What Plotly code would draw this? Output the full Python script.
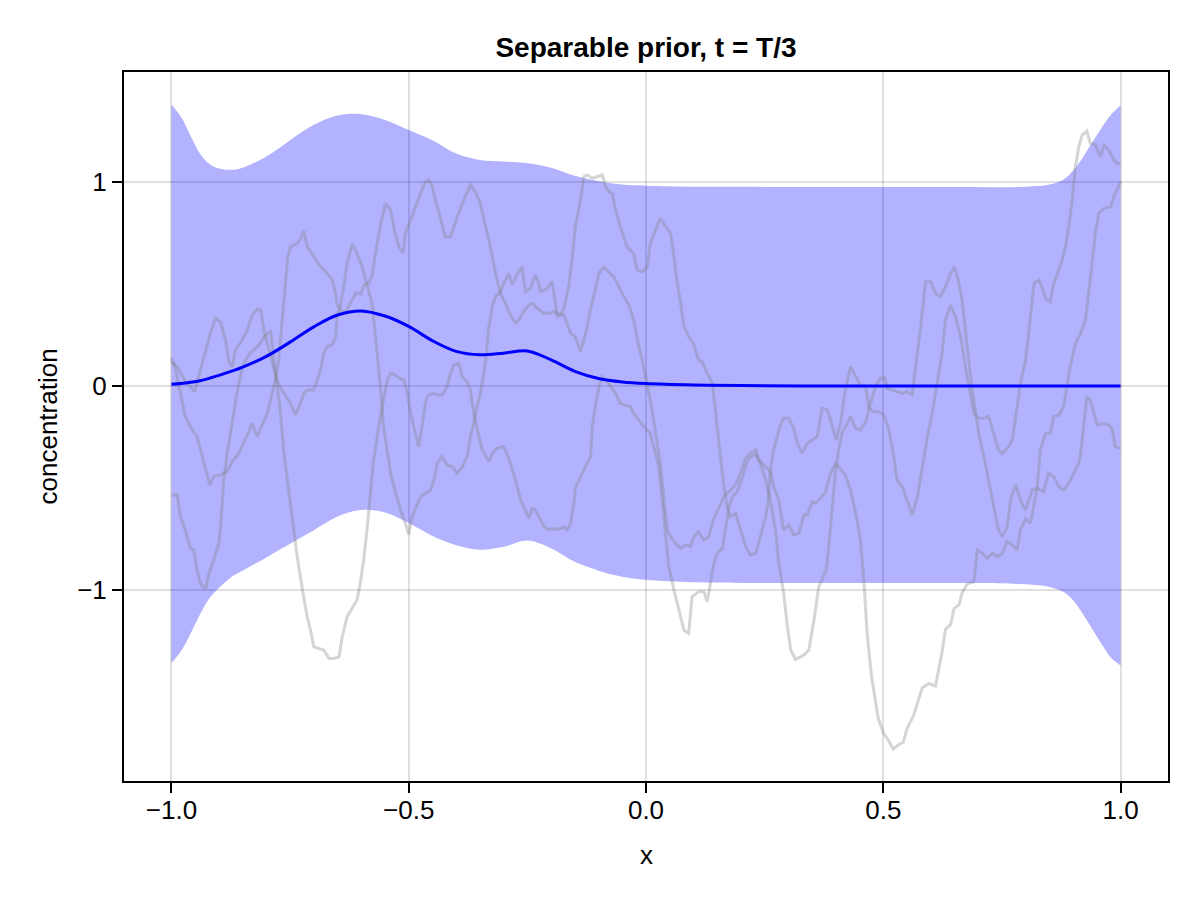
import plotly.graph_objects as go

# band / mean
band_x = [-1.0, -0.98, -0.96, -0.94, -0.92, -0.90, -0.87, -0.85, -0.80, -0.75,
          -0.70, -0.65, -0.60, -0.55, -0.50, -0.45, -0.40, -0.35, -0.30, -0.25,
          -0.20, -0.15, -0.10, -0.05, 0.0, 0.10, 0.20, 0.40, 0.60, 0.80,
          0.85, 0.88, 0.90, 0.92, 0.94, 0.96, 0.98, 1.0]
band_upper = [1.379, 1.32, 1.228, 1.14, 1.088, 1.066, 1.06, 1.07, 1.125, 1.205,
              1.28, 1.326, 1.332, 1.304, 1.255, 1.205, 1.139, 1.108, 1.100, 1.092,
              1.070, 1.030, 1.003, 0.987, 0.982, 0.977, 0.976, 0.975, 0.975, 0.977,
              0.987, 1.012, 1.056, 1.118, 1.193, 1.265, 1.330, 1.375]
band_lower = [-1.358, -1.30, -1.215, -1.12, -1.04, -0.99, -0.93, -0.905, -0.84, -0.773,
              -0.707, -0.640, -0.608, -0.620, -0.672, -0.735, -0.78, -0.802, -0.788, -0.757,
              -0.795, -0.862, -0.905, -0.935, -0.950, -0.962, -0.965, -0.966, -0.966, -0.972,
              -0.985, -1.010, -1.050, -1.115, -1.190, -1.265, -1.332, -1.370]
mean_y = [0.008, 0.012, 0.018, 0.026, 0.038, 0.052, 0.075, 0.092, 0.145, 0.215,
          0.290, 0.348, 0.368, 0.343, 0.292, 0.222, 0.170, 0.153, 0.161, 0.172,
          0.128, 0.072, 0.037, 0.020, 0.012, 0.005, 0.002, 0.0, 0.0, 0.0,
          0.0, 0.0, 0.0, 0.0, 0.0, 0.0, 0.0, 0.0]

# three prior samples (x, y)
sample_a = [
    (-1.000, 0.137), (-0.990, 0.070), (-0.981, -0.036), (-0.971, -0.150), (-0.956, -0.216),
    (-0.946, -0.248), (-0.935, -0.346), (-0.925, -0.428), (-0.919, -0.485), (-0.911, -0.444),
    (-0.897, -0.436), (-0.883, -0.420), (-0.872, -0.371), (-0.858, -0.330), (-0.848, -0.281),
    (-0.837, -0.224), (-0.830, -0.183), (-0.819, -0.248), (-0.812, -0.207), (-0.798, -0.134),
    (-0.788, -0.036), (-0.781, 0.029), (-0.774, 0.127), (-0.767, 0.307), (-0.760, 0.495),
    (-0.755, 0.630), (-0.749, 0.683), (-0.735, 0.699), (-0.728, 0.720), (-0.721, 0.760),
    (-0.714, 0.683), (-0.700, 0.634), (-0.686, 0.585), (-0.672, 0.552), (-0.661, 0.520),
    (-0.654, 0.454), (-0.651, 0.397), (-0.642, 0.370), (-0.633, 0.362), (-0.623, 0.407),
    (-0.611, 0.456), (-0.600, 0.451), (-0.595, 0.495), (-0.584, 0.506), (-0.577, 0.540),
    (-0.570, 0.651), (-0.560, 0.784), (-0.549, 0.895), (-0.538, 0.862), (-0.528, 0.740),
    (-0.519, 0.673), (-0.512, 0.651), (-0.507, 0.750), (-0.496, 0.814), (-0.486, 0.880),
    (-0.475, 0.945), (-0.465, 1.002), (-0.458, 1.010), (-0.451, 0.985), (-0.444, 0.912),
    (-0.433, 0.822), (-0.423, 0.732), (-0.412, 0.732), (-0.405, 0.781), (-0.395, 0.847),
    (-0.384, 0.912), (-0.370, 0.985), (-0.360, 0.953), (-0.349, 0.896), (-0.338, 0.781),
    (-0.328, 0.683), (-0.317, 0.553), (-0.307, 0.455), (-0.296, 0.405), (-0.286, 0.348),
    (-0.275, 0.307), (-0.268, 0.324), (-0.258, 0.364), (-0.247, 0.397), (-0.240, 0.405),
    (-0.229, 0.381), (-0.215, 0.356), (-0.205, 0.356), (-0.194, 0.364), (-0.184, 0.353),
    (-0.173, 0.348), (-0.166, 0.307), (-0.159, 0.258), (-0.149, 0.242), (-0.138, 0.168),
    (-0.131, 0.225), (-0.124, 0.291), (-0.117, 0.373), (-0.110, 0.438), (-0.099, 0.552),
    (-0.089, 0.582), (-0.078, 0.560), (-0.068, 0.536), (-0.057, 0.487), (-0.047, 0.438),
    (-0.036, 0.397), (-0.026, 0.324), (-0.015, 0.193), (-0.005, 0.095), (0.003, -0.003),
    (0.009, -0.069), (0.016, -0.167), (0.024, -0.297), (0.031, -0.395), (0.038, -0.559),
    (0.045, -0.706), (0.052, -0.739), (0.062, -0.771), (0.073, -0.796), (0.083, -0.779),
    (0.094, -0.785), (0.101, -0.739), (0.111, -0.714), (0.122, -0.755), (0.132, -0.739),
    (0.143, -0.649), (0.153, -0.600), (0.164, -0.543), (0.178, -0.510), (0.189, -0.485),
    (0.199, -0.428), (0.210, -0.354), (0.220, -0.330), (0.231, -0.314), (0.238, -0.363),
    (0.252, -0.395), (0.262, -0.420), (0.269, -0.493), (0.280, -0.559), (0.290, -0.706),
    (0.301, -0.681), (0.311, -0.730), (0.322, -0.722), (0.333, -0.632), (0.340, -0.632),
    (0.350, -0.567), (0.357, -0.575), (0.368, -0.551), (0.378, -0.520), (0.389, -0.428),
    (0.399, -0.382), (0.406, -0.395), (0.420, -0.436), (0.431, -0.510), (0.442, -0.624),
    (0.452, -0.755), (0.459, -0.951), (0.466, -1.212), (0.475, -1.420), (0.489, -1.625),
    (0.500, -1.700), (0.511, -1.736), (0.521, -1.780), (0.532, -1.758), (0.542, -1.747),
    (0.550, -1.680), (0.564, -1.614), (0.582, -1.480), (0.596, -1.458), (0.610, -1.470),
    (0.624, -1.303), (0.631, -1.192), (0.642, -1.170), (0.649, -1.092), (0.660, -1.070),
    (0.666, -1.014), (0.677, -0.970), (0.691, -0.959), (0.698, -0.804), (0.709, -0.820),
    (0.719, -0.845), (0.730, -0.820), (0.740, -0.837), (0.751, -0.820), (0.761, -0.763),
    (0.772, -0.779), (0.782, -0.804), (0.789, -0.706), (0.800, -0.649), (0.810, -0.673),
    (0.817, -0.592), (0.824, -0.502), (0.831, -0.314), (0.842, -0.232), (0.852, -0.232),
    (0.859, -0.150), (0.870, -0.142), (0.880, -0.101), (0.887, -0.003), (0.894, 0.095),
    (0.905, 0.209), (0.916, 0.258), (0.926, 0.324), (0.933, 0.454), (0.940, 0.601),
    (0.947, 0.748), (0.954, 0.846), (0.965, 0.871), (0.979, 0.879), (0.986, 0.928),
    (1.000, 1.002),
]

sample_b = [
    (-1.000, 0.120), (-0.988, 0.095), (-0.970, 0.020), (-0.951, -0.028), (-0.939, 0.078),
    (-0.928, 0.176), (-0.918, 0.258), (-0.907, 0.332), (-0.897, 0.315), (-0.886, 0.225),
    (-0.879, 0.119), (-0.872, 0.095), (-0.865, 0.176), (-0.851, 0.225), (-0.840, 0.275),
    (-0.830, 0.348), (-0.819, 0.376), (-0.812, 0.373), (-0.805, 0.275), (-0.798, 0.209),
    (-0.788, 0.127), (-0.777, 0.029), (-0.770, -0.011), (-0.760, -0.044), (-0.749, -0.085),
    (-0.739, -0.142), (-0.728, -0.085), (-0.721, -0.036), (-0.714, -0.020), (-0.700, -0.020),
    (-0.693, 0.029), (-0.686, 0.078), (-0.679, 0.160), (-0.672, 0.193), (-0.661, 0.201),
    (-0.654, 0.242), (-0.651, 0.340), (-0.644, 0.397), (-0.637, 0.487), (-0.630, 0.601),
    (-0.619, 0.696), (-0.609, 0.651), (-0.598, 0.584), (-0.588, 0.495), (-0.577, 0.400),
    (-0.567, 0.170), (-0.560, 0.005), (-0.553, -0.200), (-0.545, -0.330), (-0.538, -0.430),
    (-0.528, -0.520), (-0.517, -0.610), (-0.507, -0.673), (-0.500, -0.730), (-0.493, -0.641),
    (-0.482, -0.575), (-0.475, -0.543), (-0.465, -0.526), (-0.454, -0.510), (-0.447, -0.461),
    (-0.440, -0.379), (-0.430, -0.346), (-0.419, -0.387), (-0.408, -0.395), (-0.398, -0.428),
    (-0.387, -0.395), (-0.377, -0.346), (-0.370, -0.248), (-0.363, -0.183), (-0.356, -0.101),
    (-0.349, -0.036), (-0.342, 0.062), (-0.338, 0.127), (-0.331, 0.291), (-0.324, 0.389),
    (-0.317, 0.438), (-0.307, 0.462), (-0.300, 0.503), (-0.289, 0.552), (-0.282, 0.495),
    (-0.271, 0.552), (-0.261, 0.585), (-0.254, 0.462), (-0.243, 0.479), (-0.233, 0.544),
    (-0.226, 0.503), (-0.222, 0.462), (-0.208, 0.479), (-0.198, 0.511), (-0.191, 0.405),
    (-0.187, 0.340), (-0.180, 0.348), (-0.173, 0.381), (-0.163, 0.487), (-0.156, 0.618),
    (-0.149, 0.781), (-0.138, 0.912), (-0.131, 1.026), (-0.124, 1.034), (-0.113, 1.018),
    (-0.103, 1.026), (-0.092, 1.034), (-0.085, 0.977), (-0.078, 0.952), (-0.071, 0.944),
    (-0.064, 0.863), (-0.054, 0.781), (-0.040, 0.683), (-0.026, 0.650), (-0.019, 0.569),
    (-0.008, 0.560), (0.003, 0.585), (0.009, 0.699), (0.020, 0.760), (0.030, 0.822),
    (0.041, 0.781), (0.052, 0.748), (0.059, 0.634), (0.066, 0.503), (0.073, 0.405),
    (0.080, 0.291), (0.090, 0.242), (0.101, 0.201), (0.111, 0.127), (0.118, 0.119),
    (0.129, 0.062), (0.140, 0.013), (0.150, -0.199), (0.157, -0.346), (0.164, -0.493),
    (0.171, -0.592), (0.178, -0.641), (0.189, -0.624), (0.199, -0.706), (0.210, -0.788),
    (0.220, -0.828), (0.231, -0.820), (0.241, -0.739), (0.252, -0.641), (0.257, -0.575),
    (0.262, -0.412), (0.269, -0.314), (0.276, -0.248), (0.283, -0.191), (0.290, -0.158),
    (0.301, -0.158), (0.311, -0.207), (0.319, -0.281), (0.329, -0.330), (0.340, -0.281),
    (0.361, -0.248), (0.371, -0.109), (0.382, -0.118), (0.389, -0.167), (0.401, -0.265),
    (0.410, -0.183), (0.420, -0.020), (0.431, 0.095), (0.442, 0.046), (0.452, 0.005),
    (0.463, -0.003), (0.470, -0.109), (0.480, -0.126), (0.491, -0.126), (0.501, -0.142),
    (0.512, -0.216), (0.522, -0.346), (0.529, -0.461), (0.540, -0.493), (0.550, -0.559),
    (0.561, -0.632), (0.572, -0.542), (0.582, -0.395), (0.593, -0.248), (0.603, -0.134),
    (0.614, 0.013), (0.624, 0.160), (0.631, 0.324), (0.642, 0.397), (0.652, 0.340),
    (0.663, 0.242), (0.673, 0.095), (0.684, -0.036), (0.691, -0.134), (0.701, -0.158),
    (0.712, -0.158), (0.722, -0.150), (0.733, -0.232), (0.743, -0.314), (0.751, -0.330),
    (0.761, -0.306), (0.772, -0.265), (0.779, -0.150), (0.789, 0.013), (0.800, 0.127),
    (0.807, 0.291), (0.814, 0.422), (0.818, 0.503), (0.828, 0.520), (0.835, 0.479),
    (0.842, 0.430), (0.852, 0.413), (0.859, 0.503), (0.866, 0.544), (0.877, 0.618),
    (0.884, 0.683), (0.891, 0.781), (0.898, 0.912), (0.905, 1.075), (0.912, 1.173),
    (0.919, 1.230), (0.929, 1.250), (0.936, 1.190), (0.947, 1.181), (0.958, 1.124),
    (0.965, 1.181), (0.975, 1.157), (0.986, 1.108), (0.993, 1.091), (1.000, 1.091),
]

sample_c = [
    (-1.000, -0.534), (-0.988, -0.534), (-0.981, -0.641), (-0.971, -0.706), (-0.960, -0.796),
    (-0.953, -0.804), (-0.946, -0.902), (-0.939, -0.967), (-0.928, -0.997), (-0.921, -0.918),
    (-0.911, -0.853), (-0.900, -0.771), (-0.895, -0.641), (-0.890, -0.470), (-0.883, -0.336),
    (-0.876, -0.231), (-0.869, -0.130), (-0.862, -0.036), (-0.855, 0.046), (-0.848, 0.105),
    (-0.837, 0.155), (-0.826, 0.180), (-0.816, 0.200), (-0.802, 0.250), (-0.791, 0.268),
    (-0.781, 0.062), (-0.770, -0.134), (-0.763, -0.330), (-0.756, -0.461), (-0.749, -0.592),
    (-0.742, -0.722), (-0.735, -0.837), (-0.725, -0.984), (-0.714, -1.131), (-0.707, -1.196),
    (-0.700, -1.278), (-0.690, -1.286), (-0.679, -1.294), (-0.668, -1.335), (-0.658, -1.335),
    (-0.647, -1.327), (-0.640, -1.229), (-0.630, -1.131), (-0.619, -1.090), (-0.609, -1.049),
    (-0.602, -0.967), (-0.595, -0.853), (-0.588, -0.706), (-0.581, -0.526), (-0.574, -0.363),
    (-0.563, -0.199), (-0.556, -0.101), (-0.545, 0.029), (-0.538, 0.062), (-0.528, 0.054),
    (-0.517, 0.035), (-0.510, 0.029), (-0.503, -0.036), (-0.496, -0.134), (-0.486, -0.232),
    (-0.479, -0.297), (-0.472, -0.199), (-0.465, -0.085), (-0.461, -0.052), (-0.451, -0.036),
    (-0.440, -0.044), (-0.430, -0.044), (-0.419, -0.003), (-0.412, 0.062), (-0.405, 0.103),
    (-0.395, 0.111), (-0.387, 0.046), (-0.377, 0.021), (-0.370, -0.020), (-0.363, -0.134),
    (-0.352, -0.248), (-0.345, -0.314), (-0.331, -0.371), (-0.324, -0.330), (-0.314, -0.306),
    (-0.300, -0.297), (-0.293, -0.330), (-0.279, -0.428), (-0.264, -0.559), (-0.254, -0.608),
    (-0.247, -0.649), (-0.240, -0.600), (-0.233, -0.608), (-0.222, -0.657), (-0.215, -0.690),
    (-0.205, -0.703), (-0.194, -0.698), (-0.184, -0.703), (-0.173, -0.690), (-0.166, -0.706),
    (-0.159, -0.673), (-0.152, -0.575), (-0.149, -0.502), (-0.138, -0.444), (-0.128, -0.395),
    (-0.117, -0.346), (-0.113, -0.199), (-0.106, -0.085), (-0.099, -0.003), (-0.092, 0.046),
    (-0.085, 0.029), (-0.075, -0.003), (-0.064, -0.036), (-0.054, -0.085), (-0.043, -0.093),
    (-0.033, -0.101), (-0.026, -0.134), (-0.015, -0.167), (-0.005, -0.199), (0.009, -0.232),
    (0.020, -0.330), (0.027, -0.395), (0.034, -0.559), (0.041, -0.722), (0.048, -0.886),
    (0.059, -1.000), (0.069, -1.098), (0.080, -1.196), (0.090, -1.212), (0.097, -1.033),
    (0.111, -1.008), (0.122, -1.008), (0.129, -1.057), (0.136, -0.967), (0.143, -0.869),
    (0.150, -0.820), (0.161, -0.796), (0.168, -0.690), (0.175, -0.592), (0.182, -0.543),
    (0.192, -0.518), (0.203, -0.450), (0.213, -0.370), (0.222, -0.345), (0.231, -0.335),
    (0.241, -0.380), (0.252, -0.460), (0.262, -0.560), (0.273, -0.710), (0.280, -0.870),
    (0.290, -1.016), (0.298, -1.180), (0.305, -1.294), (0.315, -1.340), (0.325, -1.330),
    (0.333, -1.319), (0.343, -1.294), (0.354, -1.147), (0.364, -0.984), (0.372, -0.940),
    (0.380, -0.900), (0.385, -0.788), (0.392, -0.592), (0.399, -0.428), (0.406, -0.314),
    (0.413, -0.232), (0.420, -0.200), (0.431, -0.150), (0.442, -0.208), (0.452, -0.216),
    (0.463, -0.175), (0.473, -0.085), (0.484, -0.003), (0.494, 0.038), (0.503, 0.041),
    (0.508, -0.011), (0.519, -0.020), (0.529, -0.028), (0.540, -0.036), (0.550, -0.028),
    (0.561, -0.044), (0.568, 0.095), (0.579, 0.291), (0.589, 0.511), (0.600, 0.511),
    (0.610, 0.454), (0.620, 0.438), (0.631, 0.487), (0.642, 0.552), (0.650, 0.585),
    (0.658, 0.520), (0.666, 0.422), (0.673, 0.258), (0.680, 0.127), (0.687, -0.003),
    (0.694, -0.118), (0.701, -0.232), (0.709, -0.314), (0.715, -0.379), (0.722, -0.461),
    (0.730, -0.559), (0.737, -0.641), (0.743, -0.706), (0.751, -0.739), (0.761, -0.690),
    (0.768, -0.559), (0.779, -0.485), (0.789, -0.559), (0.800, -0.608), (0.807, -0.559),
    (0.814, -0.510), (0.824, -0.502), (0.838, -0.518), (0.848, -0.428), (0.859, -0.444),
    (0.870, -0.493), (0.880, -0.510), (0.891, -0.477), (0.902, -0.428), (0.912, -0.379),
    (0.916, -0.330), (0.923, -0.167), (0.929, -0.052), (0.936, -0.069), (0.947, -0.167),
    (0.951, -0.191), (0.965, -0.183), (0.975, -0.191), (0.982, -0.207), (0.989, -0.297),
    (1.000, -0.306),
]

x_ticks = [-1.0, -0.5, 0.0, 0.5, 1.0]
x_ticklabels = ["\u22121.0", "\u22120.5", "0.0", "0.5", "1.0"]
y_ticks = [-1, 0, 1]
y_ticklabels = ["\u22121", "0", "1"]

FONT = "Liberation Sans, Arial, sans-serif"

fig = go.Figure()

# band: lower edge first, upper fills down to it
fig.add_trace(go.Scatter(x=band_x, y=band_lower, mode="lines",
                         line=dict(width=0, shape="spline"),
                         hoverinfo="skip", showlegend=False))
fig.add_trace(go.Scatter(x=band_x, y=band_upper, mode="lines",
                         line=dict(width=0, shape="spline"),
                         fill="tonexty", fillcolor="rgba(0,0,255,0.3)",
                         hoverinfo="skip", showlegend=False))

for s in (sample_a, sample_b, sample_c):
    xs = [p[0] for p in s]
    ys = [p[1] for p in s]
    fig.add_trace(go.Scatter(x=xs, y=ys, mode="lines",
                             line=dict(color="rgba(128,128,128,0.33)", width=3),
                             showlegend=False))

fig.add_trace(go.Scatter(x=band_x, y=mean_y, mode="lines",
                         line=dict(color="blue", width=3, shape="spline"),
                         showlegend=False))

axis_common = dict(
    showgrid=True, gridcolor="rgba(0,0,0,0.12)", gridwidth=2,
    zeroline=False, showline=True, linecolor="black", linewidth=2, mirror=True,
    ticks="outside", ticklen=10, tickwidth=2, tickcolor="black",
    tickfont=dict(family=FONT, size=26, color="black"),
)

# the page adds an 8 px body margin, so the figure margins are shifted to compensate
fig.update_layout(
    width=1200, height=900,
    margin=dict(l=116, r=40, t=64, b=127, pad=0),
    paper_bgcolor="white", plot_bgcolor="white",
    font=dict(family=FONT, color="black"),
    title=dict(text="Separable prior, t = T/3", xref="paper", x=0.5, xanchor="center",
               yref="container", y=1 - 39 / 900, yanchor="middle",
               font=dict(family=FONT, size=28, color="black", weight="bold")),
    xaxis=dict(range=[-1.1, 1.1], tickvals=x_ticks, ticktext=x_ticklabels,
               ticklabelstandoff=-5, automargin=False, **axis_common),
    yaxis=dict(range=[-1.936, 1.539], tickvals=y_ticks, ticktext=y_ticklabels,
               automargin=False, **axis_common),
    annotations=[
        dict(text="x", xref="paper", yref="paper", x=0.5, y=-0.1044,
             showarrow=False, xanchor="center", yanchor="middle",
             font=dict(family=FONT, size=26, color="black")),
        dict(text="concentration", xref="paper", yref="paper", x=-0.0728, y=0.5,
             showarrow=False, xanchor="center", yanchor="middle", textangle=-90,
             font=dict(family=FONT, size=26, color="black")),
    ],
)

fig.write_html("out.html")
